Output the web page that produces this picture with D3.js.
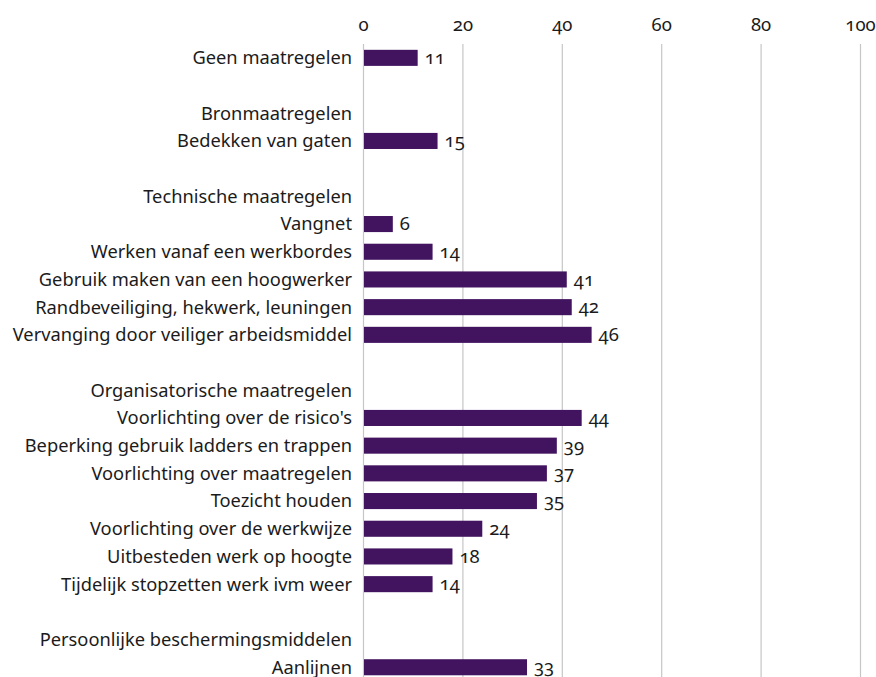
<!DOCTYPE html>
<html>
<head>
<meta charset="utf-8">
<script src="https://cdn.jsdelivr.net/npm/d3@7"></script>
<style>
    body { margin: 0; background: #fff; }
    svg text { font-family: "Noto Sans", "Open Sans", sans-serif; fill: #1b1b1b; font-variant-numeric: oldstyle-nums; }
</style>
</head>
<body>
<div id="chart"></div>
<script>
// rows in display order; null value = header or blank row
const categories = [
    "Geen maatregelen", "", "Bronmaatregelen", "Bedekken van gaten", "",
    "Technische maatregelen", "Vangnet", "Werken vanaf een werkbordes",
    "Gebruik maken van een hoogwerker", "Randbeveiliging, hekwerk, leuningen",
    "Vervanging door veiliger arbeidsmiddel", "",
    "Organisatorische maatregelen", "Voorlichting over de risico's",
    "Beperking gebruik ladders en trappen", "Voorlichting over maatregelen",
    "Toezicht houden", "Voorlichting over de werkwijze", "Uitbesteden werk op hoogte",
    "Tijdelijk stopzetten werk ivm weer", "",
    "Persoonlijke beschermingsmiddelen", "Aanlijnen"
];
const values = [
    11, null, null, 15, null,
    null, 6, 14, 41, 42, 46, null,
    null, 44, 39, 37, 35, 24, 18, 14, null,
    null, 33
];
const xTicks = [0, 20, 40, 60, 80, 100];

const width = 876, height = 677;
const margin = { left: 363, right: 16, top: 44 };

const rows = categories.map((c, i) => ({ id: i, label: c, value: values[i] }));

const svg = d3.select("#chart").append("svg")
    .attr("width", width)
    .attr("height", height);

const x = d3.scaleLinear().domain([0, 100]).range([margin.left, 860]);
const y = d3.scaleBand()
    .domain(rows.map(d => d.id))
    .range([margin.top, margin.top + 23 * 27.7])
    .paddingInner(0.42)
    .paddingOuter(0.21);

// grid lines
svg.append("g").attr("class", "grids")
    .selectAll("line").data(xTicks).join("line")
    .attr("x1", d => x(d) + 0.5).attr("x2", d => x(d) + 0.5)
    .attr("y1", margin.top).attr("y2", height)
    .attr("stroke", "#c6c6c6").attr("stroke-width", 1.2);

// top axis labels
const axis = svg.append("g")
    .attr("transform", `translate(0, 31)`)
    .call(d3.axisTop(x).tickValues(xTicks).tickSize(0).tickPadding(0));
axis.select(".domain").remove();
axis.selectAll("text").style("font-size", "18.5px").attr("dy", 0);

// bars
svg.append("g").attr("class", "bars")
    .selectAll("rect").data(rows.filter(d => d.value != null)).join("rect")
    .attr("x", x(0) + 1)
    .attr("y", d => y(d.id))
    .attr("width", d => x(d.value) - x(0) - 1)
    .attr("height", y.bandwidth())
    .attr("fill", "#42145f");

// value labels
svg.append("g").attr("class", "values")
    .selectAll("text").data(rows.filter(d => d.value != null)).join("text")
    .attr("x", d => x(d.value) + 7)
    .attr("y", d => y(d.id) + y.bandwidth() / 2)
    .attr("dy", "0.33em")
    .style("font-size", "18.5px")
    .text(d => d.value);

// category labels
svg.append("g").attr("class", "labels")
    .selectAll("text").data(rows.filter(d => d.label !== "")).join("text")
    .attr("x", 352)
    .attr("y", d => y(d.id) + y.bandwidth() / 2)
    .attr("dy", "0.35em")
    .attr("text-anchor", "end")
    .style("font-size", "18.3px")
    .text(d => d.label);
</script>
</body>
</html>
